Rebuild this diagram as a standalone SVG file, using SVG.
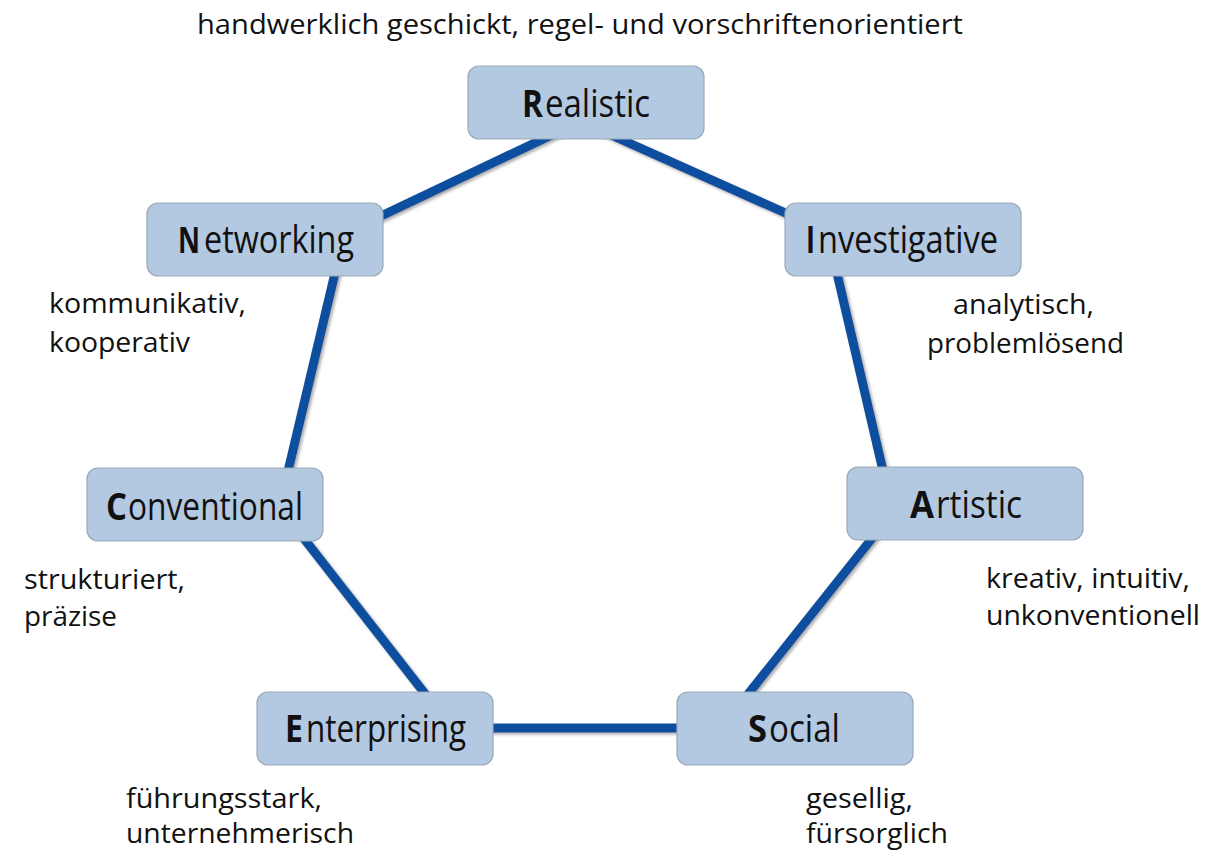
<svg xmlns="http://www.w3.org/2000/svg" width="1214" height="852" viewBox="0 0 1214 852">
<style>
.box{fill:#b2c9e1;stroke:#9aa9ba;stroke-width:1.2}
.lbl{font-family:"Open Sans","Noto Sans",sans-serif;font-size:38px;fill:#111}
.b{font-weight:bold}
.desc{font-family:"Open Sans","Noto Sans",sans-serif;font-size:27px;fill:#111}
.edge{stroke:#0a509e;stroke-width:9;stroke-linecap:butt;fill:none}
</style>
<defs>
<filter id="sh" x="-10%" y="-10%" width="120%" height="120%">
<feDropShadow dx="2" dy="2" stdDeviation="1.5" flood-color="#777" flood-opacity="0.6"/>
</filter>
</defs>
<rect width="1214" height="852" fill="#fff"/>
<g id="connectors" filter="url(#sh)">
<line class="edge" x1="560" y1="131" x2="360" y2="226"/>
<line class="edge" x1="600" y1="130" x2="810" y2="224"/>
<line class="edge" x1="339" y1="256" x2="284" y2="488"/>
<line class="edge" x1="833" y1="256" x2="887" y2="488"/>
<line class="edge" x1="291" y1="522" x2="440" y2="713"/>
<line class="edge" x1="885" y1="522" x2="733" y2="713"/>
<line class="edge" x1="480" y1="728" x2="690" y2="728"/>
</g>
<g id="realistic">
<rect class="box" x="468" y="66" width="236" height="73" rx="11"/>
<text class="lbl b" x="522" y="117" textLength="21" lengthAdjust="spacingAndGlyphs">R</text>
<text class="lbl" x="545" y="117" textLength="105" lengthAdjust="spacingAndGlyphs">ealistic</text>
</g>
<g id="investigative">
<rect class="box" x="785" y="203" width="236" height="73" rx="11"/>
<text class="lbl b" x="806" y="253" textLength="9" lengthAdjust="spacingAndGlyphs">I</text>
<text class="lbl" x="818" y="253" textLength="180" lengthAdjust="spacingAndGlyphs">nvestigative</text>
</g>
<g id="networking">
<rect class="box" x="147" y="203" width="236" height="73" rx="11"/>
<text class="lbl b" x="178" y="253" font-size="35" textLength="22" lengthAdjust="spacingAndGlyphs" style="font-size:35px">N</text>
<text class="lbl" x="204" y="253" textLength="150" lengthAdjust="spacingAndGlyphs">etworking</text>
</g>
<g id="artistic">
<rect class="box" x="847" y="467" width="236" height="73" rx="11"/>
<text class="lbl b" x="910" y="518" textLength="24" lengthAdjust="spacingAndGlyphs">A</text>
<text class="lbl" x="936" y="518" textLength="86" lengthAdjust="spacingAndGlyphs">rtistic</text>
</g>
<g id="conventional">
<rect class="box" x="87" y="468" width="236" height="73" rx="11"/>
<text class="lbl b" x="106" y="520" textLength="21" lengthAdjust="spacingAndGlyphs">C</text>
<text class="lbl" x="128" y="520" textLength="175" lengthAdjust="spacingAndGlyphs">onventional</text>
</g>
<g id="enterprising">
<rect class="box" x="257" y="692" width="236" height="73" rx="11"/>
<text class="lbl b" x="285" y="742" textLength="18" lengthAdjust="spacingAndGlyphs">E</text>
<text class="lbl" x="306" y="742" textLength="160" lengthAdjust="spacingAndGlyphs">nterprising</text>
</g>
<g id="social">
<rect class="box" x="677" y="692" width="236" height="73" rx="11"/>
<text class="lbl b" x="748" y="742" textLength="19" lengthAdjust="spacingAndGlyphs">S</text>
<text class="lbl" x="769" y="742" textLength="71" lengthAdjust="spacingAndGlyphs">ocial</text>
</g>
<g id="descriptions">
<text class="desc" x="197" y="34" textLength="766" lengthAdjust="spacingAndGlyphs">handwerklich geschickt, regel- und vorschriftenorientiert</text>
<text class="desc" x="49" y="313" textLength="197" lengthAdjust="spacingAndGlyphs">kommunikativ,</text>
<text class="desc" x="49" y="352" textLength="141" lengthAdjust="spacingAndGlyphs">kooperativ</text>
<text class="desc" x="953" y="314" textLength="141" lengthAdjust="spacingAndGlyphs">analytisch,</text>
<text class="desc" x="927" y="353" textLength="197" lengthAdjust="spacingAndGlyphs">problemlösend</text>
<text class="desc" x="986" y="588" textLength="204" lengthAdjust="spacingAndGlyphs">kreativ, intuitiv,</text>
<text class="desc" x="986" y="625" textLength="214" lengthAdjust="spacingAndGlyphs">unkonventionell</text>
<text class="desc" x="24" y="589" textLength="161" lengthAdjust="spacingAndGlyphs">strukturiert,</text>
<text class="desc" x="24" y="626" textLength="93" lengthAdjust="spacingAndGlyphs">präzise</text>
<text class="desc" x="126" y="808" textLength="196" lengthAdjust="spacingAndGlyphs">führungsstark,</text>
<text class="desc" x="126" y="843" textLength="228" lengthAdjust="spacingAndGlyphs">unternehmerisch</text>
<text class="desc" x="806" y="808" textLength="107" lengthAdjust="spacingAndGlyphs">gesellig,</text>
<text class="desc" x="806" y="843" textLength="142" lengthAdjust="spacingAndGlyphs">fürsorglich</text>
</g>
</svg>
